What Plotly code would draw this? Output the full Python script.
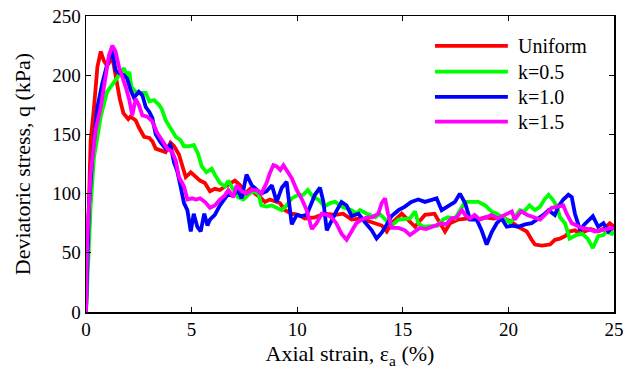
import plotly.graph_objects as go

series_names = ["Uniform", "k=0.5", "k=1.0", "k=1.5"]
series_colors = ["#ff0000", "#00ff00", "#0000ff", "#ff00ff"]

uniform_x = [0, 0.1, 0.22, 0.38, 0.54, 0.7, 0.85, 1.0, 1.25, 1.45,
             1.6, 1.77, 2.0, 2.1, 2.35, 2.5, 2.75, 3.0, 3.15, 3.3,
             3.5, 3.77, 4.0, 4.17, 4.4, 4.56, 4.72, 4.96, 5.19, 5.4,
             5.63, 5.87, 6.1, 6.34, 6.58, 6.8, 7.05, 7.3, 7.53, 7.77,
             8.0, 8.24, 8.47, 8.7, 8.95, 9.18, 9.42, 9.74, 10.04, 10.37,
             10.84, 11.3, 11.8, 12.17, 12.58, 13.05, 13.5, 14.0, 14.24, 14.47,
             14.95, 15.25, 15.58, 15.85, 16.05, 16.5, 16.75, 17.0, 17.23, 17.6,
             18.1, 18.56, 18.9, 19.3, 19.7, 20.16, 20.55, 20.87, 21.1, 21.26,
             21.58, 21.97, 22.2, 22.44, 22.68, 22.9, 23.15, 23.4, 23.6, 23.9,
             24.24, 24.57, 24.8, 25.0]
uniform_q = [0, 80, 145, 173, 207, 220, 212, 208, 215, 195,
             180, 168, 163, 165, 162, 156, 148, 147, 144, 138,
             137, 135, 143, 140, 133, 122, 114, 118, 114, 111,
             109, 102, 104, 103, 106, 108, 111, 107, 100, 104,
             100, 97, 93, 95, 93, 92, 86, 83, 82, 79,
             80, 83, 82, 83, 78, 79, 76, 73, 68, 75,
             83, 78, 72, 78, 82, 83, 75, 68, 75, 78,
             79, 78, 80, 79, 80, 76, 71, 68, 61, 57,
             56, 57, 61, 62, 64, 68, 69, 66, 68, 70,
             68, 71, 75, 72]

k05_x = [0, 0.1, 0.22, 0.38, 0.7, 1.0, 1.33, 1.64, 1.8, 1.96,
         2.05, 2.15, 2.35, 2.6, 2.83, 3.0, 3.22, 3.46, 3.6, 3.77,
         4.0, 4.25, 4.48, 4.64, 4.88, 5.1, 5.3, 5.48, 5.7, 5.95,
         6.1, 6.34, 6.58, 6.74, 6.98, 7.2, 7.45, 7.68, 7.92, 8.16,
         8.3, 8.55, 8.8, 9.03, 9.27, 9.5, 9.74, 10.05, 10.29, 10.5,
         10.76, 11.0, 11.3, 11.55, 11.8, 12.1, 12.58, 12.8, 12.97, 13.3,
         13.7, 13.9, 14.16, 14.47, 14.8, 15.1, 15.34, 15.58, 15.73, 15.97,
         16.37, 16.66, 16.9, 17.14, 17.47, 17.7, 17.95, 18.26, 18.57, 18.9,
         19.2, 19.45, 19.84, 20.08, 20.3, 20.55, 20.75, 21.0, 21.26, 21.5,
         21.7, 21.9, 22.1, 22.3, 22.44, 22.68, 22.9, 23.2, 23.5, 23.75,
         24.0, 24.25, 24.5, 24.65, 24.9, 25.0]
k05_q = [0, 40, 89, 131, 165, 186, 194, 201, 206, 198,
         203, 190, 186, 185, 185, 178, 179, 175, 171, 162,
         155, 148, 145, 140, 140, 141, 134, 123, 118, 121,
         116, 109, 106, 111, 103, 97, 95, 99, 102, 100,
         90, 89, 90, 88, 86, 90, 96, 99, 99, 103,
         97, 95, 89, 92, 93, 89, 86, 83, 86, 83,
         80, 83, 78, 73, 78, 79, 79, 85, 75, 72,
         73, 73, 78, 80, 79, 86, 93, 93, 93, 90,
         85, 83, 79, 75, 80, 86, 85, 90, 86, 89,
         95, 99, 95, 89, 80, 75, 62, 65, 66, 62,
         54, 64, 65, 68, 66, 68]

k10_x = [0, 0.14, 0.3, 0.54, 0.77, 1.0, 1.25, 1.4, 1.56, 1.8,
         1.95, 2.1, 2.27, 2.5, 2.67, 2.83, 3.0, 3.14, 3.3, 3.54,
         3.77, 4.0, 4.17, 4.32, 4.48, 4.64, 4.8, 4.96, 5.1, 5.27,
         5.43, 5.6, 5.75, 5.87, 6.1, 6.34, 6.58, 6.74, 6.95, 7.2,
         7.37, 7.6, 7.85, 8.08, 8.3, 8.55, 8.8, 9.03, 9.27, 9.5,
         9.74, 9.98, 10.2, 10.45, 10.69, 10.84, 11.08, 11.24, 11.4, 11.63,
         11.85, 12.1, 12.34, 12.58, 12.9, 13.2, 13.53, 13.76, 14.0, 14.24,
         14.47, 14.8, 15.1, 15.4, 15.73, 16.05, 16.37, 16.6, 16.84, 17.15,
         17.47, 17.7, 17.95, 18.18, 18.5, 18.73, 18.97, 19.2, 19.45, 19.68,
         19.92, 20.2, 20.46, 20.79, 21.1, 21.34, 21.66, 21.9, 22.2, 22.36,
         22.6, 22.84, 23.0, 23.15, 23.4, 23.6, 23.86, 24.0, 24.25, 24.5,
         24.73, 24.9, 25.0]
k10_q = [0, 89, 131, 173, 193, 209, 221, 204, 202, 200,
         197, 188, 181, 186, 183, 173, 169, 164, 150, 143,
         138, 141, 126, 119, 106, 92, 86, 68, 83, 72,
         68, 83, 73, 78, 82, 90, 96, 100, 98, 103,
         96, 116, 107, 103, 100, 102, 107, 93, 105, 110,
         74, 82, 81, 82, 92, 99, 105, 93, 69, 78,
         85, 93, 90, 81, 83, 76, 69, 62, 67, 74,
         81, 86, 89, 93, 95, 93, 95, 96, 86, 89,
         93, 100, 92, 78, 78, 69, 57, 67, 75, 79,
         72, 73, 72, 74, 75, 78, 82, 86, 82, 89,
         95, 99, 97, 83, 69, 74, 79, 81, 72, 75,
         68, 71, 70]

k15_x = [0, 0.06, 0.22, 0.46, 0.7, 0.93, 1.09, 1.25, 1.4, 1.56,
         1.72, 1.88, 2.04, 2.19, 2.35, 2.5, 2.67, 2.9, 3.14, 3.38,
         3.6, 3.85, 4.09, 4.25, 4.4, 4.64, 4.8, 5.03, 5.2, 5.4,
         5.63, 5.87, 6.1, 6.34, 6.55, 6.74, 6.98, 7.13, 7.37, 7.6,
         7.85, 8.08, 8.3, 8.55, 8.7, 8.87, 9.03, 9.2, 9.35, 9.58,
         9.74, 9.98, 10.2, 10.45, 10.69, 10.92, 11.16, 11.4, 11.63, 11.85,
         12.1, 12.34, 12.58, 12.8, 13.05, 13.3, 13.55, 13.84, 14.0, 14.16,
         14.3, 14.47, 14.8, 15.1, 15.34, 15.58, 15.8, 16.1, 16.37, 16.6,
         16.84, 17.05, 17.3, 17.55, 17.8, 17.95, 18.18, 18.4, 18.65, 18.97,
         19.2, 19.5, 19.84, 20.16, 20.3, 20.6, 20.9, 21.26, 21.5, 21.73,
         22.05, 22.36, 22.6, 22.76, 23.0, 23.24, 23.47, 23.8, 24.1, 24.4,
         24.65, 24.9, 25.0]
k15_q = [0, 61, 117, 154, 173, 199, 217, 225, 220, 207,
         199, 190, 180, 166, 180, 175, 166, 165, 161, 151,
         145, 138, 135, 128, 114, 106, 95, 96, 95, 96,
         93, 88, 90, 95, 98, 103, 97, 107, 102, 100,
         103, 103, 100, 109, 117, 124, 123, 120, 124, 118,
         113, 103, 96, 86, 70, 75, 83, 82, 80, 75,
         66, 61, 69, 75, 78, 80, 80, 83, 92, 96,
         83, 71, 71, 69, 65, 68, 71, 70, 72, 73,
         75, 74, 79, 80, 86, 82, 79, 82, 78, 80,
         82, 79, 82, 85, 78, 85, 82, 80, 78, 82,
         88, 89, 90, 83, 75, 73, 71, 70, 68, 69,
         70, 71, 70]

x_ticks = [0, 5, 10, 15, 20, 25]
y_ticks = [0, 50, 100, 150, 200, 250]

all_x = [uniform_x, k05_x, k10_x, k15_x]
all_q = [uniform_q, k05_q, k10_q, k15_q]

FONT = "Liberation Serif, Times New Roman, serif"

fig = go.Figure()
for name, color, xs, qs in zip(series_names, series_colors, all_x, all_q):
    fig.add_trace(go.Scatter(x=xs, y=qs, mode="lines", name=name,
                             line=dict(color=color, width=3.8),
                             showlegend=False, hoverinfo="skip"))

# manual legend (long sample lines like the original)
leg_y = [0.899, 0.812, 0.727, 0.643]
for name, color, yy in zip(series_names, series_colors, leg_y):
    fig.add_shape(type="line", xref="paper", yref="paper",
                  x0=0.661, x1=0.799, y0=yy, y1=yy,
                  line=dict(color=color, width=3.8))
    fig.add_annotation(xref="paper", yref="paper", x=0.814, y=yy,
                       text=name, showarrow=False, xanchor="left",
                       yanchor="middle",
                       font=dict(family=FONT, size=20, color="black"))

axis_common = dict(showgrid=False, zeroline=False, showline=True,
                   linecolor="black", linewidth=1.5, ticks="inside",
                   ticklen=5, tickwidth=1, tickcolor="black", mirror="ticks",
                   automargin=False,
                   tickfont=dict(family=FONT, size=19, color="black"))

fig.update_xaxes(range=[0, 25], tickvals=x_ticks,
                 ticktext=[str(v) for v in x_ticks],
                 title=dict(text="Axial strain, ε<sub>a</sub> (%)",
                            font=dict(family=FONT, size=22, color="black"),
                            standoff=6),
                 **axis_common)
fig.update_yaxes(range=[0, 250], tickvals=y_ticks,
                 ticktext=[str(v) for v in y_ticks],
                 title=dict(text="Deviatoric stress, q (kPa)",
                            font=dict(family=FONT, size=22, color="black"),
                            standoff=15),
                 **axis_common)

fig.update_layout(width=627, height=376,
                  margin=dict(l=86, r=13, t=16, b=64),
                  paper_bgcolor="white", plot_bgcolor="white",
                  font=dict(family=FONT, color="black"))

fig.write_html("out.html",
               config={"displayModeBar": False, "staticPlot": True},
               post_script="document.body.style.margin='0px';"
                           "document.body.style.overflow='hidden';")
